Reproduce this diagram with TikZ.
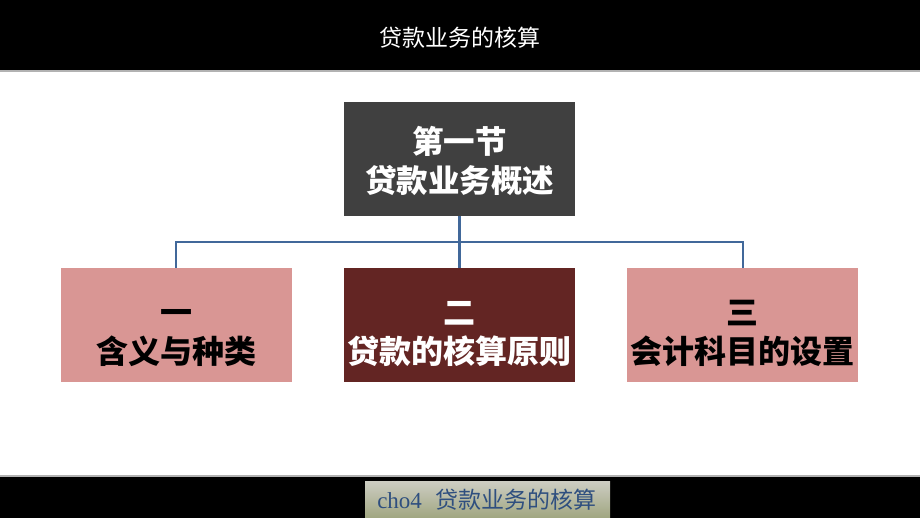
\documentclass[tikz,border=0pt]{standalone}
\usepackage{fontspec}
\setmainfont{Noto Sans CJK SC}
\newfontfamily\latinserif{Liberation Serif}
\usetikzlibrary{positioning,calc}

\definecolor{secgray}{RGB}{64,64,64}
\definecolor{lightred}{RGB}{217,150,148}
\definecolor{darkred}{RGB}{99,37,35}
\definecolor{linkblue}{RGB}{65,104,154}
\definecolor{footblue}{RGB}{47,79,127}

% extra room above the first line, to push the text down a little
\newcommand\topgap[1]{\rule{0pt}{#1}}

\tikzset{
  secbox/.style={rectangle,minimum width=231pt,minimum height=114pt,inner sep=0pt,
    align=center,font=\fontsize{31.5}{39}\selectfont\bfseries},
  subbox/.style={secbox,font=\fontsize{32}{38.5}\selectfont\bfseries},
  link/.style={draw=linkblue,line width=2.2pt}
}

\begin{document}
\begin{tikzpicture}[x=1pt,y=-1pt,node distance=52pt]
\useasboundingbox (0,0) rectangle (920,518);
\fill[white] (0,0) rectangle (920,518);
% header and footer bars
\fill[black] (0,0) rectangle (920,71);
\draw[gray!60,line width=1.5pt] (0,71) -- (920,71);
\node[text=white,font=\fontsize{23}{23}\selectfont] (title) at (460,38) {贷款业务的核算};
\fill[black] (0,476) rectangle (920,518);
\draw[gray!60,line width=1.5pt] (0,476) -- (920,476);
\shade[top color={rgb,255:red,205;green,205;blue,195},bottom color={rgb,255:red,160;green,166;blue,128}]
  (365,481) rectangle (610,518);
\node[text=footblue,font=\fontsize{23}{23}\selectfont] (foot) at (487,500) {{\latinserif cho4}\hspace{0.6em}贷款业务的核算};
% boxes
\node[secbox,fill=secgray,text=white] (sec) at (459.5,159) {\topgap{32pt}第一节\\贷款业务概述};
\node[subbox,fill=darkred,text=white,below=of sec] (mid) {\topgap{40pt}二\\贷款的核算原则};
\node[subbox,fill=lightred,text=black,left=of mid] (left) {\topgap{40pt}一\\含义与种类};
\node[subbox,fill=lightred,text=black,right=of mid] (right) {\topgap{40pt}三\\会计科目的设置};
% connectors
\coordinate (hub) at ($(sec.south)!.5!(mid.north)$);
\draw[link] (sec.south) -- (mid.north);
\draw[link] (hub) -| (left.north);
\draw[link] (hub) -| (right.north);
\end{tikzpicture}
\end{document}
